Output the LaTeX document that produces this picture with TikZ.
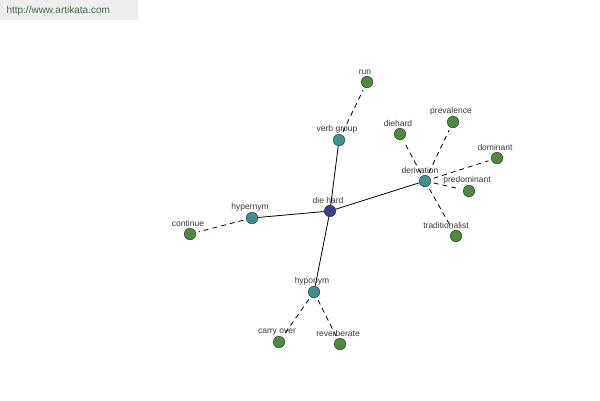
\documentclass[tikz,border=0pt]{standalone}
\usepackage{fontspec}
\setmainfont{Liberation Sans}
\usetikzlibrary{positioning}

\definecolor{leafgreen}{HTML}{4E8A3E}
\definecolor{relteal}{HTML}{3F9090}
\definecolor{rootblue}{HTML}{3A3F8F}
\definecolor{markgray}{HTML}{EEEEEE}
\definecolor{marktext}{HTML}{4A6A4A}

\begin{document}
\begin{tikzpicture}[
  x=1pt, y=-1pt,
  every node/.style={font=\fontsize{8.5}{9}\selectfont, text=black!78},
  word/.style={draw=black!85, circle, fill=leafgreen, minimum size=11.5pt, inner sep=0pt},
  relation/.style={word, fill=relteal},
  root/.style={word, fill=rootblue},
  tag/.style={inner sep=0.8pt, xshift=-2pt},
  link/.style={line width=0.8pt, black},
  weak/.style={line width=0.8pt, black, dashed, dash pattern=on 5pt off 4pt, shorten <=3pt, shorten >=3pt}
]
\useasboundingbox (0,0) rectangle (600,400);

% Watermark
\fill[markgray] (0,0) rectangle (138,20);
\node[text=marktext, font=\fontsize{10}{11}\selectfont, anchor=west] (site) at (3,11) {http://www.artikata.com};

% Root
\node[root, label={[tag]above:die hard}] (diehard0) at (330,211) {};

% Relations
\node[relation, label={[tag]above:verb group}] (verbgroup) at (339,140) {};
\node[relation, label={[tag]above:hypernym}] (hypernym) at (252,218) {};
\node[relation, label={[tag, xshift=-3pt]above:derivation}] (derivation) at (425,181) {};
\node[relation, label={[tag]above:hyponym}] (hyponym) at (314,292) {};

% Words
\node[word, label={[tag]above:run}] (run) at (367,82) {};
\node[word, label={[tag]above:continue}] (continue) at (190,234) {};
\node[word, label={[tag]above:diehard}] (diehard1) at (400,134) {};
\node[word, label={[tag]above:prevalence}] (prevalence) at (453,122) {};
\node[word, label={[tag]above:dominant}] (dominant) at (497,158) {};
\node[word, label={[tag]above:predominant}] (predominant) at (469,191) {};
\node[word, label={[tag, xshift=-8pt]above:traditionalist}] (traditionalist) at (456,236) {};
\node[word, label={[tag]above:carry over}] (carryover) at (279,342) {};
\node[word, label={[tag]above:reverberate}] (reverberate) at (340,344) {};

% Root to relations
\draw[link] (diehard0) -- (verbgroup);
\draw[link] (diehard0) -- (hypernym);
\draw[link] (diehard0) -- (derivation);
\draw[link] (diehard0) -- (hyponym);

% Relations to words
\draw[weak] (verbgroup) -- (run);
\draw[weak] (hypernym) -- (continue);
\draw[weak] (derivation) -- (diehard1);
\draw[weak] (derivation) -- (prevalence);
\draw[weak] (derivation) -- (dominant);
\draw[weak] (derivation) -- (predominant);
\draw[weak] (derivation) -- (traditionalist);
\draw[weak] (hyponym) -- (carryover);
\draw[weak] (hyponym) -- (reverberate);

\end{tikzpicture}
\end{document}
